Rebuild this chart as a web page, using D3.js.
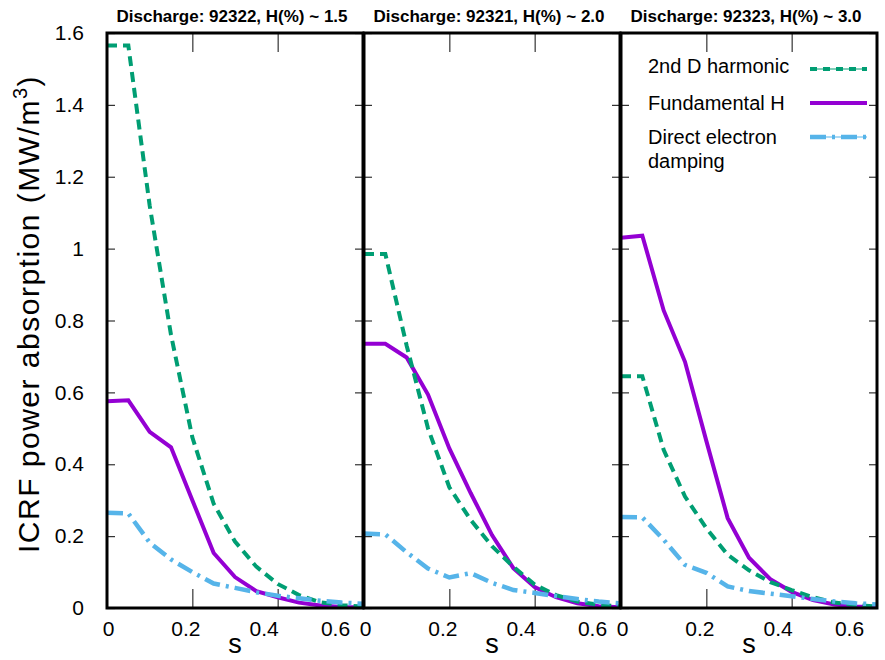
<!DOCTYPE html>
<html>
<head>
<meta charset="utf-8">
<script src="https://cdn.jsdelivr.net/npm/d3@7"></script>
<style>
  body { margin: 0; background: #fff; }
  svg { display: block; font-family: "Liberation Sans", Arial, sans-serif; }
</style>
</head>
<body>
<div id="chart"></div>
<script>
// normalised radius s (same grid for every curve)
const sGrid = [0, 0.05, 0.1, 0.15, 0.2, 0.25, 0.3, 0.35, 0.4, 0.45, 0.5, 0.55, 0.6]

const panelTitles = ["Discharge: 92322, H(%) ~ 1.5", "Discharge: 92321, H(%) ~ 2.0", "Discharge: 92323, H(%) ~ 3.0"]
const seriesNames = ["2nd D harmonic", "Fundamental H", "Direct electron damping"]

// discharge 92322
const harm2D_92322 = [1.565, 1.565, 1.12, 0.76, 0.475, 0.29, 0.185, 0.115, 0.067, 0.036, 0.016, 0.008, 0.004]
const fundH_92322  = [0.575, 0.578, 0.49, 0.447, 0.30, 0.153, 0.086, 0.047, 0.03, 0.015, 0.007, 0.003, 0.002]
const elec_92322   = [0.265, 0.263, 0.182, 0.135, 0.10, 0.068, 0.056, 0.044, 0.034, 0.027, 0.02, 0.015, 0.012]

// discharge 92321
const harm2D_92321 = [0.985, 0.985, 0.73, 0.50, 0.336, 0.245, 0.172, 0.115, 0.065, 0.036, 0.018, 0.009, 0.004]
const fundH_92321  = [0.735, 0.735, 0.697, 0.594, 0.444, 0.32, 0.203, 0.111, 0.058, 0.03, 0.013, 0.005, 0.002]
const elec_92321   = [0.207, 0.205, 0.155, 0.11, 0.085, 0.097, 0.07, 0.05, 0.042, 0.033, 0.025, 0.018, 0.013]

// discharge 92323
const harm2D_92323 = [0.645, 0.645, 0.44, 0.31, 0.222, 0.148, 0.105, 0.072, 0.05, 0.03, 0.015, 0.008, 0.004]
const fundH_92323  = [1.03, 1.036, 0.828, 0.685, 0.465, 0.25, 0.14, 0.08, 0.045, 0.022, 0.01, 0.004, 0.002]
const elec_92323   = [0.253, 0.252, 0.19, 0.12, 0.098, 0.06, 0.047, 0.04, 0.033, 0.025, 0.018, 0.013, 0.01]

const yTicks = [0, 0.2, 0.4, 0.6, 0.8, 1, 1.2, 1.4, 1.6]
const xTicks = [0, 0.2, 0.4, 0.6]
const xInnerTicks = [0.2, 0.4]

const panels = [
  {title: panelTitles[0], series: [harm2D_92322, fundH_92322, elec_92322]},
  {title: panelTitles[1], series: [harm2D_92321, fundH_92321, elec_92321]},
  {title: panelTitles[2], series: [harm2D_92323, fundH_92323, elec_92323]}
]

// styles per series (same order as seriesNames)
const colors = ["#009e73", "#9400d3", "#56b4e9"]
const dashes = ["10,6", null, "16,6,3,6"]
const widths = [4, 4, 4.5]
const drawOrder = [1, 0, 2]

// layout
const margin = {top: 33, left: 107}
const panelW = 256, panelH = 575, panelStep = 257
const labelShift = [1, -7, -14, -28]

const svg = d3.select("#chart")
  .append("svg")
    .attr("width", 885)
    .attr("height", 660)

const x = d3.scaleLinear().domain([0, 0.6]).range([0, panelW])
const y = d3.scaleLinear().domain([0, 1.6]).range([panelH, 0])
const fmt = d => String(+d.toFixed(1))

const line = d3.line()
  .x(d => x(d[0]))
  .y(d => y(d[1]))

const styleAxis = (sel) => {
  sel.select(".domain").remove()
  sel.selectAll(".tick line").attr("stroke", "#333").attr("stroke-width", 1.2)
  sel.selectAll(".tick text").attr("fill", "#000").style("font-size", "21px")
    .style("font-family", "'Liberation Sans', Arial, sans-serif")
}

panels.forEach((p, i) => {
  const g = svg.append("g")
    .attr("transform", `translate(${margin.left + i * panelStep},${margin.top})`)

  g.append("clipPath").attr("id", "clip" + i)
    .append("rect").attr("width", panelW).attr("height", panelH)

  // inward ticks on all four sides
  g.append("g")
    .call(d3.axisLeft(y).tickValues(yTicks).tickSize(-8).tickPadding(23)
      .tickFormat(i === 0 ? fmt : ""))
    .call(styleAxis)

  g.append("g")
    .attr("transform", `translate(${panelW},0)`)
    .call(d3.axisRight(y).tickValues(yTicks).tickSize(-8).tickFormat(""))
    .call(styleAxis)

  g.append("g")
    .attr("transform", `translate(0,${panelH})`)
    .call(d3.axisBottom(x).tickValues(xInnerTicks).tickSize(-19).tickFormat(""))
    .call(styleAxis)

  g.append("g")
    .call(d3.axisTop(x).tickValues(xInnerTicks).tickSize(-19).tickFormat(""))
    .call(styleAxis)

  // x tick labels
  const xl = g.append("g")
    .attr("transform", `translate(0,${panelH})`)
    .call(d3.axisBottom(x).tickValues(xTicks).tickSize(0).tickPadding(13).tickFormat(fmt))
    .call(styleAxis)
  xl.selectAll(".tick text").attr("dx", (d, k) => labelShift[k])

  // curves
  const curves = g.append("g").attr("clip-path", `url(#clip${i})`)
  drawOrder.forEach(k => {
    curves.append("path")
      .datum(sGrid.map((s, j) => [s, p.series[k][j]]))
      .attr("fill", "none")
      .attr("stroke", colors[k])
      .attr("stroke-width", widths[k])
      .attr("stroke-dasharray", dashes[k])
      .attr("d", line)
  })

  // frame
  g.append("rect")
    .attr("width", panelW)
    .attr("height", panelH)
    .attr("fill", "none")
    .attr("stroke", "#000")
    .attr("stroke-width", 3)

  // title
  g.append("text")
    .attr("x", panelW / 2 - 3)
    .attr("y", -11)
    .attr("text-anchor", "middle")
    .style("font-size", "17px")
    .style("font-weight", "bold")
    .text(p.title)

  // x axis label
  g.append("text")
    .attr("x", panelW / 2)
    .attr("y", 620)
    .attr("text-anchor", "middle")
    .style("font-size", "27px")
    .text("s")

  // legend in last panel
  if (i === 2) {
    const rows = [{t: ["2nd D harmonic"], ly: 36, ty: 40},
                  {t: ["Fundamental H"], ly: 70, ty: 77},
                  {t: ["Direct electron", "damping"], ly: 104, ty: 111}]
    rows.forEach((r, k) => {
      const txt = g.append("text")
        .attr("x", 27)
        .attr("y", r.ty)
        .style("font-size", "20px")
      r.t.forEach((s, m) => {
        txt.append("tspan").attr("x", 27).attr("dy", m === 0 ? 0 : 24).text(s)
      })
      if (dashes[k]) {
        g.append("line")
          .attr("x1", 189).attr("x2", 246).attr("y1", r.ly).attr("y2", r.ly)
          .attr("stroke", colors[k]).attr("stroke-width", 1)
      }
      g.append("line")
        .attr("x1", 189).attr("x2", 246).attr("y1", r.ly).attr("y2", r.ly)
        .attr("stroke", colors[k])
        .attr("stroke-width", widths[k])
        .attr("stroke-dasharray", k === 0 ? "7,6" : dashes[k])
    })
  }
})

// shared y axis label
const yl = svg.append("text")
  .attr("transform", "translate(39,314) rotate(-90)")
  .attr("text-anchor", "middle")
  .style("font-size", "30px")
  .style("letter-spacing", "1.5px")
yl.append("tspan").text("ICRF power absorption (MW/m")
yl.append("tspan").attr("dy", -12).style("font-size", "20px").text("3")
yl.append("tspan").attr("dy", 12).text(")")
</script>
</body>
</html>
